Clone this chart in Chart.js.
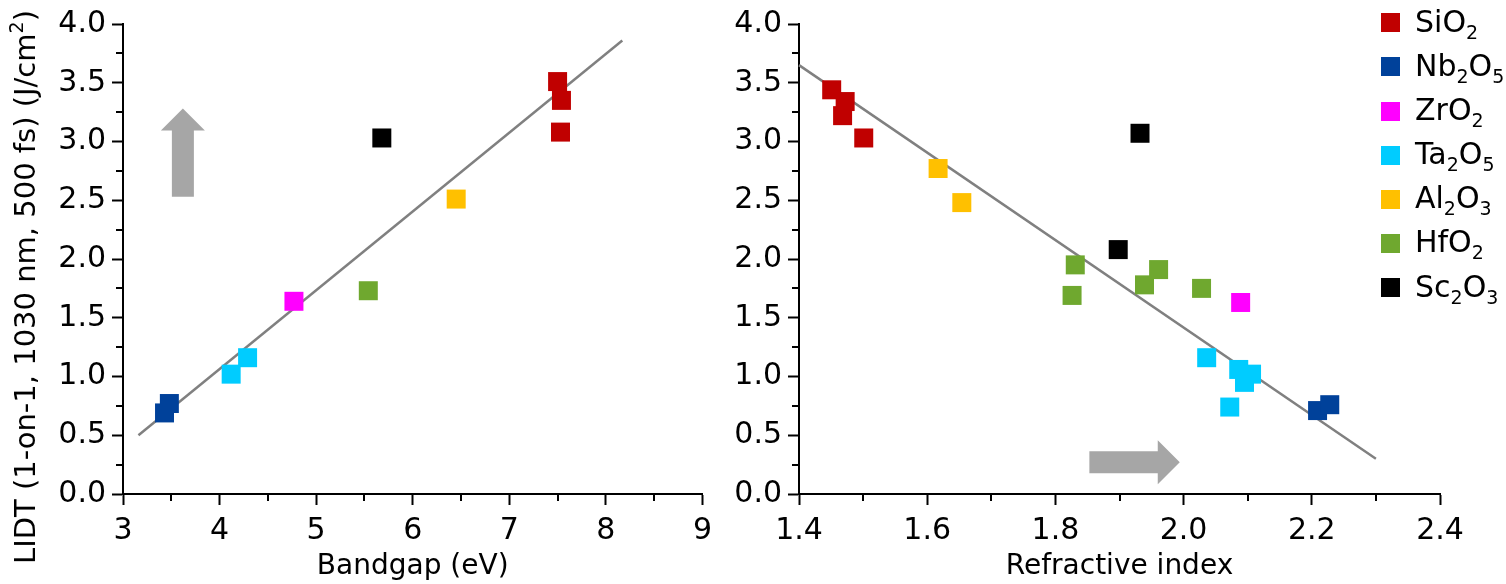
<!DOCTYPE html>
<html>
<head>
<meta charset="utf-8">
<script src="https://cdn.jsdelivr.net/npm/chart.js@4.4.1/dist/chart.umd.min.js"></script>
<style>
  html, body { margin: 0; padding: 0; background: #fff; }
  body { width: 1506px; height: 584px; position: relative; overflow: hidden; font-family: "DejaVu Sans", sans-serif; color: #000; }
  canvas { position: absolute; top: 0; }
  #c1 { left: 0; }
  #c2 { left: 720px; }
  #ytitle { position: absolute; left: -275px; top: 267px; width: 600px; height: 40px; line-height: 40px; text-align: center; font-size: 29px; white-space: nowrap; transform: rotate(-90deg); }
  #ytitle sup { font-size: 19px; vertical-align: 12px; line-height: 0; }
  .leg-sw { position: absolute; left: 1381px; width: 19px; height: 19px; }
  .leg-tx { position: absolute; left: 1415px; font-size: 30px; line-height: 40px; white-space: nowrap; }
  .leg-tx sub { font-size: 19px; vertical-align: -7px; line-height: 0; }
</style>
</head>
<body>
<canvas id="c1" width="720" height="584"></canvas>
<canvas id="c2" width="786" height="584"></canvas>
<div id="ytitle">LIDT (1-on-1, 1030 nm, 500 fs) (J/cm<sup>2</sup>)</div>
<div id="legend"></div>
<script>
// ---------- data ----------
const materials = ['SiO2', 'Nb2O5', 'ZrO2', 'Ta2O5', 'Al2O3', 'HfO2', 'Sc2O3'];
const materialColors = ['#C00000', '#00419A', '#FF00FF', '#00CCFF', '#FFC000', '#6FA82F', '#000000'];

// Bandgap (eV) vs LIDT (J/cm2)
const bgSiO2  = [[7.50, 3.51], [7.54, 3.35], [7.53, 3.08]];
const bgNb2O5 = [[3.43, 0.69], [3.48, 0.77]];
const bgZrO2  = [[4.77, 1.64]];
const bgTa2O5 = [[4.12, 1.02], [4.29, 1.16]];
const bgAl2O3 = [[6.45, 2.51]];
const bgHfO2  = [[5.54, 1.73]];
const bgSc2O3 = [[5.68, 3.03]];
const bgFit   = [[3.16, 0.50], [8.17, 3.86]];

// Refractive index vs LIDT (J/cm2)
const riSiO2  = [[1.451, 3.44], [1.472, 3.34], [1.468, 3.22], [1.501, 3.03]];
const riNb2O5 = [[2.209, 0.71], [2.228, 0.76]];
const riZrO2  = [[2.089, 1.63]];
const riTa2O5 = [[2.036, 1.16], [2.086, 1.06], [2.106, 1.02], [2.095, 0.95], [2.072, 0.74]];
const riAl2O3 = [[1.617, 2.77], [1.654, 2.48]];
const riHfO2  = [[1.831, 1.95], [1.826, 1.69], [1.939, 1.78], [1.961, 1.91], [2.028, 1.75]];
const riSc2O3 = [[1.932, 3.07], [1.898, 2.08]];
const riFit   = [[1.40, 3.65], [2.30, 0.30]];

// axes
const yRange = [0, 4];      const yStep = 0.5;  const yMinor = [0.25, 0.75, 1.25, 1.75, 2.25, 2.75, 3.25, 3.75];
const bgRange = [3, 9];     const bgStep = 1;   const bgMinor = [3.5, 4.5, 5.5, 6.5, 7.5, 8.5];
const riRange = [1.4, 2.4]; const riStep = 0.2; const riMinor = [1.5, 1.7, 1.9, 2.1, 2.3];

// trend arrows (data units)
const bgArrow = { dir: 'up', at: 3.62, from: 2.53, to: 3.28 };
const riArrow = { dir: 'right', at: 0.27, from: 1.853, to: 1.994 };

// ---------- helpers ----------
const FONT = '"DejaVu Sans", sans-serif';
const toPts = arr => arr.map(p => ({ x: p[0], y: p[1] }));

function scatterSets(groups) {
  return groups.map((g, i) => ({
    type: 'scatter',
    label: materials[i],
    data: toPts(g),
    backgroundColor: materialColors[i],
    borderWidth: 0,
    pointStyle: 'rect',
    pointRadius: 13.43,
    pointHoverRadius: 13.43,
    pointBorderWidth: 0,
    order: 0,
    clip: false
  }));
}
function fitSet(line) {
  return {
    type: 'line', label: 'fit', data: toPts(line),
    borderColor: '#808080', borderWidth: 2.5, pointRadius: 0, fill: false, order: 5, clip: false
  };
}

const minorTicks = {
  id: 'minorTicks',
  afterDraw(chart, args, opts) {
    const ctx = chart.ctx, xs = chart.scales.x, ys = chart.scales.y, ca = chart.chartArea;
    ctx.save();
    ctx.strokeStyle = '#000'; ctx.lineWidth = 2;
    (opts.x || []).forEach(v => {
      const p = Math.round(xs.getPixelForValue(v));
      ctx.beginPath(); ctx.moveTo(p, ca.bottom); ctx.lineTo(p, ca.bottom + 7); ctx.stroke();
    });
    (opts.y || []).forEach(v => {
      const p = Math.round(ys.getPixelForValue(v));
      ctx.beginPath(); ctx.moveTo(ca.left, p); ctx.lineTo(ca.left - 7, p); ctx.stroke();
    });
    ctx.restore();
  }
};

const arrowPlugin = {
  id: 'arrowPlugin',
  beforeDatasetsDraw(chart, args, a) {
    if (!a || !a.dir) return;
    const ctx = chart.ctx, xs = chart.scales.x, ys = chart.scales.y;
    const half = 11, headHalf = 22, headLen = 22;
    ctx.save();
    ctx.fillStyle = '#A6A6A6';
    ctx.beginPath();
    if (a.dir === 'up') {
      const cx = xs.getPixelForValue(a.at);
      const y0 = ys.getPixelForValue(a.from), y1 = ys.getPixelForValue(a.to);
      const yb = y1 + headLen;
      ctx.moveTo(cx - half, y0); ctx.lineTo(cx - half, yb); ctx.lineTo(cx - headHalf, yb);
      ctx.lineTo(cx, y1); ctx.lineTo(cx + headHalf, yb); ctx.lineTo(cx + half, yb); ctx.lineTo(cx + half, y0);
    } else {
      const cy = ys.getPixelForValue(a.at);
      const x0 = xs.getPixelForValue(a.from), x1 = xs.getPixelForValue(a.to);
      const xb = x1 - headLen;
      ctx.moveTo(x0, cy - half); ctx.lineTo(xb, cy - half); ctx.lineTo(xb, cy - headHalf);
      ctx.lineTo(x1, cy); ctx.lineTo(xb, cy + headHalf); ctx.lineTo(xb, cy + half); ctx.lineTo(x0, cy + half);
    }
    ctx.closePath(); ctx.fill();
    ctx.restore();
  }
};

function axis(range, step, fmt, extra) {
  return Object.assign({
    type: 'linear', min: range[0], max: range[1],
    grid: { display: true, drawOnChartArea: false, drawTicks: true, tickLength: 11, tickWidth: 2, tickColor: '#000', color: '#000' },
    border: { display: true, color: '#000', width: 2 },
    ticks: { stepSize: step, autoSkip: false, maxRotation: 0, minRotation: 0, color: '#000', font: { family: FONT, size: 30 }, callback: v => fmt(v) }
  }, extra);
}

function makeChart(id, groups, fit, xRange, xStep, xFmt, xTitle, xMinor, arrow, yWidth, padRight) {
  const xAxis = axis(xRange, xStep, xFmt, {
    position: 'bottom',
    title: { display: true, text: xTitle, color: '#000', font: { family: FONT, size: 28 }, padding: 0 },
    afterFit(s) { s.height = 90; }
  });
  xAxis.ticks.padding = 8;
  const yAxis = axis(yRange, yStep, v => Number(v).toFixed(1), {
    position: 'left',
    afterFit(s) { s.width = yWidth; }
  });
  yAxis.ticks.padding = 6;
  return new Chart(document.getElementById(id), {
    type: 'scatter',
    data: { datasets: scatterSets(groups).concat([fitSet(fit)]) },
    options: {
      responsive: false, animation: false, devicePixelRatio: 1,
      layout: { padding: { top: 20, right: padRight, left: 0, bottom: 0 } },
      plugins: {
        legend: { display: false }, tooltip: { enabled: false },
        minorTicks: { x: xMinor, y: yMinor },
        arrowPlugin: arrow
      },
      scales: { x: xAxis, y: yAxis }
    },
    plugins: [minorTicks, arrowPlugin]
  });
}

makeChart('c1', [bgSiO2, bgNb2O5, bgZrO2, bgTa2O5, bgAl2O3, bgHfO2, bgSc2O3], bgFit,
  bgRange, bgStep, v => String(Math.round(v)), 'Bandgap (eV)', bgMinor, bgArrow, 123, 15);
makeChart('c2', [riSiO2, riNb2O5, riZrO2, riTa2O5, riAl2O3, riHfO2, riSc2O3], riFit,
  riRange, riStep, v => Number(v).toFixed(1), 'Refractive index', riMinor, riArrow, 79, 66);

// legend (HTML so chemical formulas keep their subscripts)
const legend = document.getElementById('legend');
materials.forEach((m, i) => {
  const c = 22.8 + 44.1 * i;
  const sw = document.createElement('div');
  sw.className = 'leg-sw'; sw.style.top = (c - 9.5) + 'px'; sw.style.background = materialColors[i];
  const tx = document.createElement('div');
  tx.className = 'leg-tx'; tx.style.top = (c - 20.9) + 'px';
  tx.innerHTML = m.replace(/(\d)/g, '<sub>$1</sub>');
  legend.appendChild(sw); legend.appendChild(tx);
});
</script>
</body>
</html>
